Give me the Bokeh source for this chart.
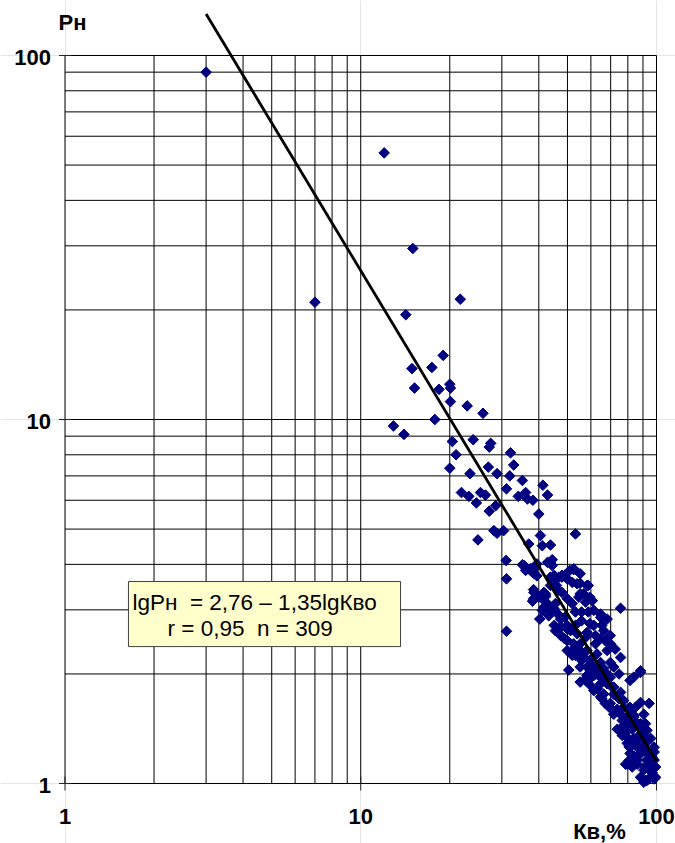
import numpy as np
from bokeh.plotting import figure
from bokeh.models import Range1d, BoxAnnotation
from bokeh.core.properties import value
from bokeh.embed import file_html
from bokeh.resources import INLINE

# ---- data ----
kv = [3, 12, 15, 7, 14.2, 21.7,
      19, 14.9, 17.4, 15.2, 18.4, 20, 20.1, 20.1, 22.9, 25.9,
      17.8, 12.9, 14, 20.4, 24, 27.5, 27.2, 21,
      20, 23.4, 27, 28.9, 32.1, 32.9, 31.9, 35.2, 31.1, 41.3,
      42.8, 36.1, 34.1, 36.6, 38.2, 21.9, 23.2, 25.4, 26.4, 24.6,
      27.2, 28.6, 40, 53.2, 40.5, 28.2, 30.4, 28.9, 24.9, 37,
      41.1, 43.8, 31, 44.4, 43.8, 35.2, 37.5, 39.4, 52.5, 31.1,
      36.1, 38.5, 39.4, 43.8, 45.5, 47.9, 49.9, 45.9, 42.1, 38.4,
      38.4, 50.9,
      31.1, 45.1, 47.9, 51.9, 55.2, 58.8, 55.2, 59.5, 38.1, 41.1,
      42.1, 45.5, 51.9, 58.8, 75.6, 40.3, 43.8, 46.4, 48.9, 55.8,
      59.5, 64.7, 65.4, 45.5, 47.4, 49.9, 53.9, 58.2, 62.2, 66.3,
      67.1, 69.8, 72.5, 75.6, 49.9, 53.2, 56.7, 59.5, 64.7, 69.8,
      50.5, 59.5, 63.6, 68.1, 88.3, 83.8,
      57.6, 61.4, 64.7, 74.7, 81.4, 88.3, 66.3, 67.1, 71.7, 74.7,
      88.3, 94.4, 75.6, 79.6, 83.8, 90.6, 91.8, 73.7, 78.6, 82.8,
      86.1, 89.4, 79.6, 84.9, 90.6, 78.6, 86.1, 95.6, 92.9, 98.2,
      90.6, 96.7, 94.4, 99.3, 99.3, 82.8, 79.6, 91.8, 98.2,
      41.6, 43.2, 45.1, 47.4, 49.9, 53.2, 55.2, 58.2, 62.9, 55.8,
      61.4, 66.3, 71.7, 58.2, 69.8, 54.6, 57.6, 61.4, 64.7, 68.1,
      61.4, 69.8, 47.9, 49.9,
      61.4, 64.7, 69.2, 71.7, 76.6, 80.8, 86.1, 88.3, 79.6, 83.8,
      91.8, 95.6, 81.4, 88.3, 84.9, 92.9, 88.3, 92.9, 58.2, 55.2,
      68.1, 64.7,
      35.7, 37.5, 39.0, 42.8, 44.4, 52.5, 55.2, 46.8, 48.9, 53.9,
      56.7, 58.2, 60.7, 38.5, 40, 42.1, 42.8, 45.1, 41.1, 47.4,
      49.9, 51.2, 46.4, 48.9, 52.5, 55.2, 56.7, 58.2, 62.9, 65.4,
      68.1, 59.5, 71.7, 75.6, 77.4, 81.4, 83.8, 88.3, 92.9, 86.1,
      90.6, 95.6, 98.2, 94.4, 77.4, 80.8,
      59.8, 63.1, 69.8, 65.4, 69.8, 73.7, 77.4, 81.4, 84.9, 77.4,
      82.8, 76.6, 81.4, 87.2, 92.9, 86.1, 91.8, 96.7, 98.2, 95.6,
      90.6, 80.8, 83.8,
      43.8, 46.4, 41.6, 53.2, 55.8, 53.2, 57.6, 62.2, 64.7, 68.1,
      51.9, 55.2]

pn = [90, 54, 29.5, 21, 19.4, 21.4,
      15, 13.8, 13.9, 12.2, 12.1, 12.5, 12.2, 11.2, 10.9, 10.4,
      10.0, 9.6, 9.1, 8.7, 8.8, 8.6, 8.4, 8.0,
      7.35, 7.1, 7.4, 7.1, 8.1, 7.5, 7.0, 6.8, 6.45, 6.6,
      6.2, 6.3, 6.15, 6.05, 6.0, 6.3, 6.15, 6.3, 6.2, 5.9,
      5.6, 5.8, 5.5, 4.85, 4.8, 4.95, 4.95, 4.87, 4.67, 4.55,
      4.5, 4.52, 4.1, 4.12, 4.06, 3.99, 3.89, 4.01, 3.87, 3.65,
      3.85, 3.77, 3.72, 3.69, 3.65, 3.69, 3.65, 3.5, 3.26, 3.22,
      3.41, 3.85,
      2.62, 3.73, 3.73, 3.57, 3.55, 3.5, 3.32, 3.25, 3.17, 3.22,
      3.29, 3.12, 3.12, 2.96, 3.03, 2.83, 2.99, 2.92, 2.86, 2.8,
      2.75, 2.86, 2.72, 2.63, 2.55, 2.47, 2.58, 2.6, 2.55, 2.63,
      2.47, 2.42, 2.34, 2.22, 2.32, 2.25, 2.22, 2.18, 2.15, 2.15,
      2.05, 2.02, 2.0, 2.0, 2.04, 1.96,
      1.92, 1.98, 1.88, 2.0, 1.92, 2.02, 1.76, 1.66, 1.76, 1.71,
      1.67, 1.66, 1.55, 1.52, 1.54, 1.55, 1.46, 1.41, 1.38, 1.41,
      1.34, 1.37, 1.29, 1.30, 1.27, 1.13, 1.16, 1.14, 1.21, 1.22,
      1.09, 1.07, 1.03, 1.11, 1.04, 1.11, 1.13, 1.02, 1.03,
      3.05, 2.89, 2.72, 2.69, 2.66, 2.37, 2.42, 2.32, 2.27, 2.18,
      2.09, 2.07, 2.09, 1.98, 1.96, 3.25, 3.15, 2.99, 2.92, 2.83,
      2.72, 2.55, 3.35, 3.22,
      1.80, 1.73, 1.62, 1.55, 1.49, 1.46, 1.46, 1.43, 1.34, 1.33,
      1.34, 1.33, 1.21, 1.21, 1.17, 1.16, 1.04, 1.02, 1.96, 1.9,
      1.92, 2.0,
      3.97, 3.85, 3.93, 4.05, 3.97, 3.89, 3.77, 3.69, 3.73, 3.54,
      3.32, 3.5, 3.18, 3.35, 3.25, 3.32, 3.12, 3.02, 2.99, 2.83,
      2.72, 2.63, 2.6, 2.5, 2.42, 2.32, 2.22, 2.09, 2.0, 1.94,
      1.88, 1.94, 1.84, 1.78, 1.69, 1.62, 1.52, 1.46, 1.40, 1.31,
      1.26, 1.21, 1.16, 1.09, 1.37, 1.26,
      1.86, 1.82, 1.86, 1.71, 1.66, 1.60, 1.62, 1.59, 1.62, 1.44,
      1.49, 1.355, 1.258, 1.245, 1.30, 1.13, 1.11, 1.18, 1.258, 1.04,
      1.008, 1.157, 1.19,
      3.5, 3.39, 3.35, 2.96, 2.96, 2.72, 2.52, 2.42, 2.5, 2.32,
      2.25, 2.09]

# regression line lgPн = 2,76 – 1,35 lgKво, end points as drawn
trend_kv = [3, 100]
trend_pn = [130, 1.15]

grid_vals = [1, 2, 3, 4, 5, 6, 7, 8, 9, 10, 20, 30, 40, 50, 60, 70, 80, 90, 100]
major_ticks = [1, 10, 100]
tick_labels = ["1", "10", "100"]
axis_min, axis_max = 1, 100

FONT = "Liberation Sans"

# the frame fills the whole page; the axes are drawn inside it
p = figure(width=675, height=843, x_axis_type="log", y_axis_type="log",
           x_axis_location=None, y_axis_location=None,
           x_range=Range1d(0.6052, 115.95), y_range=Range1d(0.6843, 141.6),
           output_backend="svg", toolbar_location=None,
           min_border=0, min_border_left=0, min_border_right=0,
           min_border_top=0, min_border_bottom=0)
p.outline_line_color = None
p.background_fill_color = "white"
p.border_fill_color = "white"

n = len(grid_vals)
p.segment(x0=grid_vals, y0=[axis_min] * n, x1=grid_vals, y1=[axis_max] * n,
          line_color="#000000", line_width=1)
p.segment(x0=[axis_min] * n, y0=grid_vals, x1=[axis_max] * n, y1=grid_vals,
          line_color="#000000", line_width=1)

# axis ticks (outward)
m = len(major_ticks)
p.scatter(x=[axis_min] * m, y=major_ticks, marker="dash", size=12,
          line_color="#222222", line_width=1)
p.scatter(x=major_ticks, y=[axis_min] * m, marker="dash", angle=np.pi / 2,
          size=14, line_color="#222222", line_width=1)

# tick labels
p.text(x=[axis_min] * m, y=major_ticks, text=tick_labels, x_offset=-14, y_offset=2,
       text_align="right", text_baseline="alphabetic", text_font=value(FONT),
       text_font_style="bold", text_font_size="22px", text_color="black")
p.text(x=major_ticks, y=[axis_min] * m, text=tick_labels, y_offset=33,
       text_align="center", text_baseline="alphabetic", text_font=value(FONT),
       text_font_style="bold", text_font_size="22px", text_color="black")

# data
p.scatter(kv, pn, marker="square", angle=np.pi / 4, size=7.5,
          fill_color="#000080", line_color="#000080", line_width=1)
p.line(trend_kv, trend_pn, line_color="black", line_width=2.8)

# axis titles
p.text(x=[1.06], y=[118.6], text=["Рн"], text_align="center", y_offset=-6,
       text_baseline="alphabetic", text_font=value(FONT),
       text_font_style="bold", text_font_size="22px", text_color="black")
p.text(x=[64.15], y=[0.6973], text=["Кв,%"], text_align="center", y_offset=-9,
       text_baseline="alphabetic", text_font=value(FONT),
       text_font_style="bold", text_font_size="22px", text_color="black")

# equation box
p.add_layout(BoxAnnotation(left=1.639, right=13.63, bottom=2.378, top=3.589,
                           fill_color="#FFFFCC", fill_alpha=1.0,
                           line_color="#404040", line_width=1, line_alpha=1.0))
eq_lines = ["lgРн\u00a0\u00a0= 2,76 – 1,35lgКво", "r = 0,95\u00a0\u00a0n = 309"]
p.text(x=[1.691, 2.222], y=[3.025, 2.567], text=eq_lines, text_align="left",
       y_offset=-6, text_baseline="alphabetic", text_font=value(FONT),
       text_font_size="22.5px", text_color="black", level="overlay")

open("out.html", "w").write(file_html(p, INLINE))
